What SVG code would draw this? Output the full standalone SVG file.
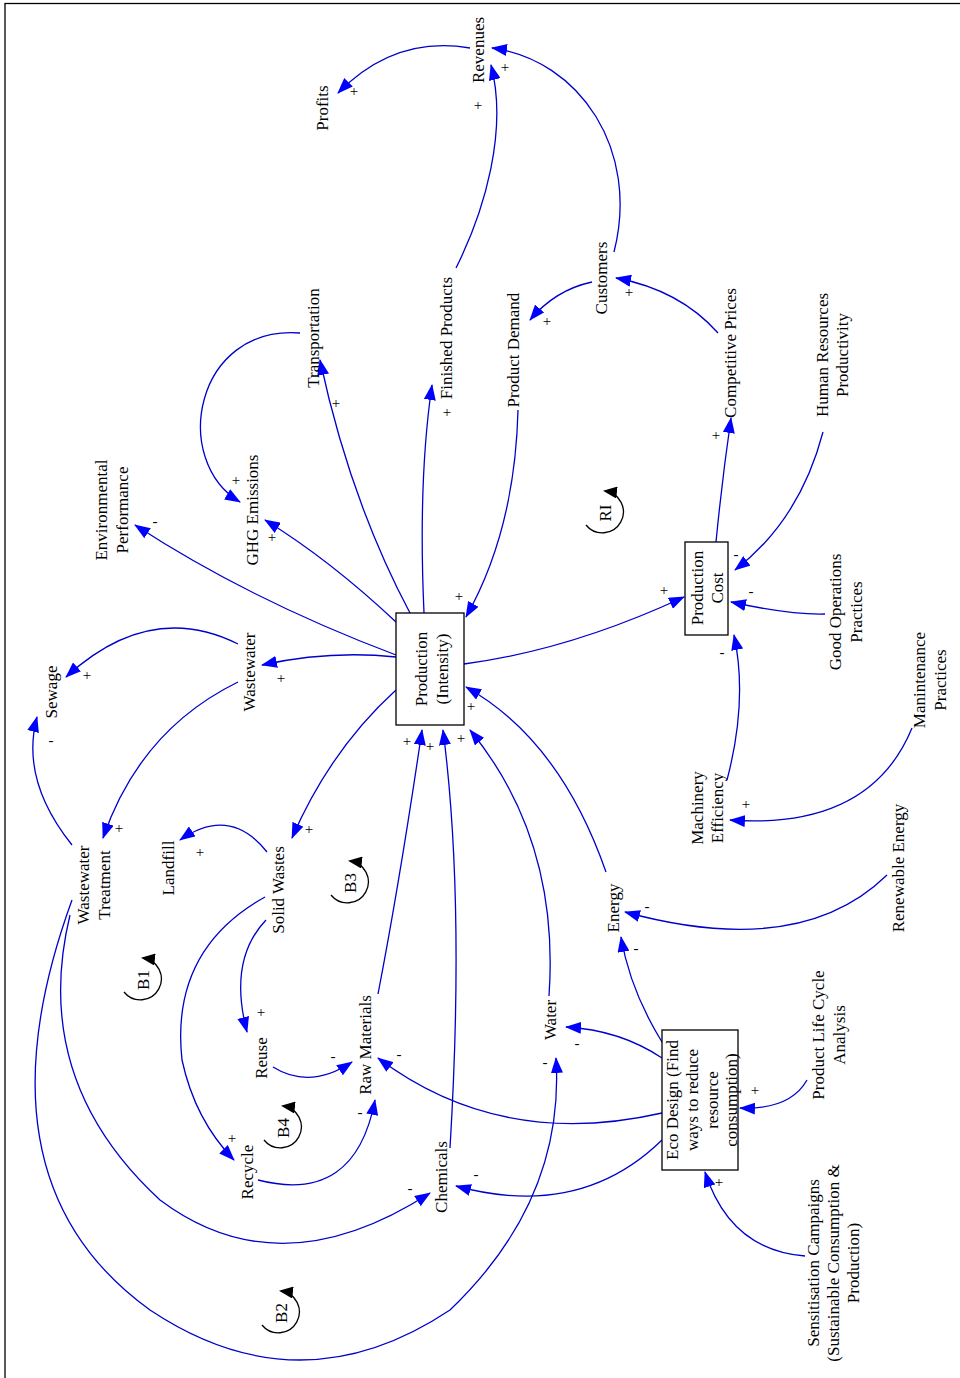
<svg xmlns="http://www.w3.org/2000/svg" width="960" height="1378" viewBox="0 0 960 1378">
<defs>
<marker id="ah" markerWidth="16" markerHeight="12" refX="15" refY="6" orient="auto" markerUnits="userSpaceOnUse"><path d="M0,0 L16,6 L0,12 z" fill="#0000ff"/></marker>
<marker id="lh" markerWidth="14" markerHeight="12" refX="2" refY="6" orient="auto" markerUnits="userSpaceOnUse"><path d="M0,6 L14,0 L14,12 z" fill="#000"/></marker>
<style>
text{font-family:"Liberation Serif","Times New Roman",serif;font-size:17px;fill:#000;text-anchor:middle;dominant-baseline:central}
text.p{font-size:15px;fill:#000}
.e{fill:none;stroke:#0000cc;stroke-width:1.3;marker-end:url(#ah)}
.box{fill:#fff;stroke:#000;stroke-width:1.3}
.loop{fill:none;stroke:#000;stroke-width:1.3;marker-start:url(#lh)}
</style>
</defs>
<rect x="0" y="0" width="960" height="1378" fill="#fff"/>
<rect x="5" y="3.5" width="960" height="1380" fill="none" stroke="#000" stroke-width="1.3"/>
<g id="connectors">
<path class="e" d="M470,48 Q395,35 338,93"/>
<path class="e" d="M456,268 C485,210 508,130 491,65"/>
<path class="e" d="M614,252 C640,150 580,60 492,48"/>
<path class="e" d="M592,282 Q555,290 530,320"/>
<path class="e" d="M718,333 Q680,290 616,278"/>
<path class="e" d="M716,542 Q722,480 731,418"/>
<path class="e" d="M823,432 Q800,520 735,570"/>
<path class="e" d="M825,614 Q790,615 731,602"/>
<path class="e" d="M727,780 Q748,700 734,635"/>
<path class="e" d="M912,728 Q870,830 730,820"/>
<path class="e" d="M887,875 Q800,960 625,912"/>
<path class="e" d="M662,1042 Q630,990 621,937"/>
<path class="e" d="M662,1058 Q620,1030 566,1027"/>
<path class="e" d="M662,1113 Q500,1150 378,1058"/>
<path class="e" d="M662,1140 Q580,1220 456,1186"/>
<path class="e" d="M807,1080 Q790,1110 740,1108"/>
<path class="e" d="M805,1256 Q730,1250 705,1172"/>
<path class="e" d="M464,664 Q570,650 684,597"/>
<path class="e" d="M518,410 Q515,530 466,617"/>
<path class="e" d="M424,613 Q418,480 432,385"/>
<path class="e" d="M410,613 Q350,500 320,360"/>
<path class="e" d="M300,333 C195,325 170,460 240,502"/>
<path class="e" d="M396,622 Q330,560 265,520"/>
<path class="e" d="M396,655 Q250,600 135,525"/>
<path class="e" d="M396,657 Q330,650 262,665"/>
<path class="e" d="M238,644 Q150,600 66,677"/>
<path class="e" d="M238,682 Q140,730 103,838"/>
<path class="e" d="M72,845 Q20,780 37,717"/>
<path class="e" d="M396,690 Q330,750 292,838"/>
<path class="e" d="M267,852 Q230,805 180,840"/>
<path class="e" d="M266,920 Q228,960 247,1032"/>
<path class="e" d="M265,897 Q170,950 182,1060 Q195,1120 234,1160"/>
<path class="e" d="M273,1067 Q310,1090 352,1062"/>
<path class="e" d="M258,1180 Q355,1205 375,1100"/>
<path class="e" d="M378,994 Q400,880 422,730"/>
<path class="e" d="M450,1148 Q465,900 443,730"/>
<path class="e" d="M549,996 Q560,840 470,730"/>
<path class="e" d="M606,872 Q560,740 466,687"/>
<path class="e" d="M70,915 Q30,1080 160,1200 Q280,1290 430,1193"/>
<path class="e" d="M72,900 Q-30,1180 150,1310 Q300,1410 450,1310 Q565,1200 556,1058"/>
</g>
<g id="polarities">
<text class="p" x="354" y="91">+</text><text class="p" x="478" y="105">+</text><text class="p" x="505" y="67">+</text>
<text class="p" x="547" y="321">+</text><text class="p" x="629" y="292">+</text><text class="p" x="716" y="435">+</text>
<text class="p" x="736" y="554">-</text><text class="p" x="751" y="591">-</text><text class="p" x="722" y="652">-</text>
<text class="p" x="746" y="804">+</text><text class="p" x="647" y="906">-</text><text class="p" x="636" y="948">-</text>
<text class="p" x="577" y="1043">-</text><text class="p" x="399" y="1054">-</text><text class="p" x="476" y="1174">-</text>
<text class="p" x="755" y="1090">+</text><text class="p" x="719" y="1182">+</text><text class="p" x="664" y="590">+</text>
<text class="p" x="459" y="596">+</text><text class="p" x="447" y="412">+</text><text class="p" x="336" y="403">+</text>
<text class="p" x="236" y="480">+</text><text class="p" x="272" y="537">+</text><text class="p" x="155" y="521">-</text>
<text class="p" x="281" y="678">+</text><text class="p" x="87" y="675">+</text><text class="p" x="119" y="828">+</text>
<text class="p" x="51" y="740">-</text><text class="p" x="309" y="829">+</text><text class="p" x="200" y="852">+</text>
<text class="p" x="261" y="1012">+</text><text class="p" x="232" y="1138">+</text><text class="p" x="333" y="1056">-</text>
<text class="p" x="360" y="1112">-</text><text class="p" x="407" y="741">+</text><text class="p" x="430" y="746">+</text>
<text class="p" x="461" y="738">+</text><text class="p" x="471" y="706">+</text><text class="p" x="410" y="1188">-</text>
<text class="p" x="545" y="1062">-</text>
</g>
<g id="revenues"><text transform="rotate(-90 478 50)" x="478" y="50">Revenues</text></g>
<g id="profits"><text transform="rotate(-90 322 108)" x="322" y="108">Profits</text></g>
<g id="transportation"><text transform="rotate(-90 313 338)" x="313" y="338">Transportation</text></g>
<g id="finished"><text transform="rotate(-90 446 338)" x="446" y="338">Finished Products</text></g>
<g id="demand"><text transform="rotate(-90 513 350)" x="513" y="350">Product Demand</text></g>
<g id="customers"><text transform="rotate(-90 601 278)" x="601" y="278">Customers</text></g>
<g id="prices"><text transform="rotate(-90 730 353)" x="730" y="353">Competitive Prices</text></g>
<g id="hr"><text transform="rotate(-90 822 355)" x="822" y="355">Human Resources</text><text transform="rotate(-90 842 355)" x="842" y="355">Productivity</text></g>
<g id="ghg"><text transform="rotate(-90 252 510)" x="252" y="510">GHG Emissions</text></g>
<g id="envperf"><text transform="rotate(-90 101 510)" x="101" y="510">Environmental</text><text transform="rotate(-90 122 510)" x="122" y="510">Performance</text></g>
<g id="pcost"><rect class="box" x="685" y="542" width="43" height="93"/><text transform="rotate(-90 697 588)" x="697" y="588">Production</text><text transform="rotate(-90 717 588)" x="717" y="588">Cost</text></g>
<g id="goodops"><text transform="rotate(-90 835 612)" x="835" y="612">Good Operations</text><text transform="rotate(-90 856 612)" x="856" y="612">Practices</text></g>
<g id="production"><rect class="box" x="396" y="613" width="68" height="112"/><text transform="rotate(-90 421 669)" x="421" y="669">Production</text><text transform="rotate(-90 442 669)" x="442" y="669">(Intensity)</text></g>
<g id="wastewater"><text transform="rotate(-90 249 672)" x="249" y="672">Wastewater</text></g>
<g id="sewage"><text transform="rotate(-90 51 692)" x="51" y="692">Sewage</text></g>
<g id="maint"><text transform="rotate(-90 919 680)" x="919" y="680">Manintenance</text><text transform="rotate(-90 940 680)" x="940" y="680">Practices</text></g>
<g id="machinery"><text transform="rotate(-90 697 808)" x="697" y="808">Machinery</text><text transform="rotate(-90 717 808)" x="717" y="808">Efficiency</text></g>
<g id="wwt"><text transform="rotate(-90 83 885)" x="83" y="885">Wastewater</text><text transform="rotate(-90 104 885)" x="104" y="885">Treatment</text></g>
<g id="landfill"><text transform="rotate(-90 168 868)" x="168" y="868">Landfill</text></g>
<g id="solid"><text transform="rotate(-90 278 890)" x="278" y="890">Solid Wastes</text></g>
<g id="renewable"><text transform="rotate(-90 898 868)" x="898" y="868">Renewable Energy</text></g>
<g id="energy"><text transform="rotate(-90 613 908)" x="613" y="908">Energy</text></g>
<g id="plca"><text transform="rotate(-90 818 1035)" x="818" y="1035">Product Life Cycle</text><text transform="rotate(-90 839 1035)" x="839" y="1035">Analysis</text></g>
<g id="water"><text transform="rotate(-90 550 1020)" x="550" y="1020">Water</text></g>
<g id="eco"><rect class="box" x="662" y="1030" width="76" height="140"/><text transform="rotate(-90 672 1100)" x="672" y="1100">Eco Design (Find</text><text transform="rotate(-90 692 1100)" x="692" y="1100">ways to reduce</text><text transform="rotate(-90 712 1100)" x="712" y="1100">resource</text><text transform="rotate(-90 731 1100)" x="731" y="1100">consumption)</text></g>
<g id="reuse"><text transform="rotate(-90 261 1058)" x="261" y="1058">Reuse</text></g>
<g id="raw"><text transform="rotate(-90 365 1045)" x="365" y="1045">Raw Materials</text></g>
<g id="recycle"><text transform="rotate(-90 247 1172)" x="247" y="1172">Recycle</text></g>
<g id="chemicals"><text transform="rotate(-90 441 1177)" x="441" y="1177">Chemicals</text></g>
<g id="sensit"><text transform="rotate(-90 813 1263)" x="813" y="1263">Sensitisation Campaigns</text><text transform="rotate(-90 833 1263)" x="833" y="1263">(Sustainable Consumption &amp;</text><text transform="rotate(-90 853 1263)" x="853" y="1263">Production)</text></g>
<g id="loops">
<path class="loop" d="M605,491 A21,21 0 1 1 586,525"/><text transform="rotate(-90 605 513)" x="605" y="513">RI</text>
<path class="loop" d="M350,861 A21,21 0 1 1 331,895"/><text transform="rotate(-90 350 883)" x="350" y="883">B3</text>
<path class="loop" d="M143,958 A21,21 0 1 1 124,992"/><text transform="rotate(-90 143 980)" x="143" y="980">B1</text>
<path class="loop" d="M283,1106 A21,21 0 1 1 264,1140"/><text transform="rotate(-90 283 1128)" x="283" y="1128">B4</text>
<path class="loop" d="M281,1291 A21,21 0 1 1 262,1325"/><text transform="rotate(-90 281 1313)" x="281" y="1313">B2</text>
</g>
</svg>
